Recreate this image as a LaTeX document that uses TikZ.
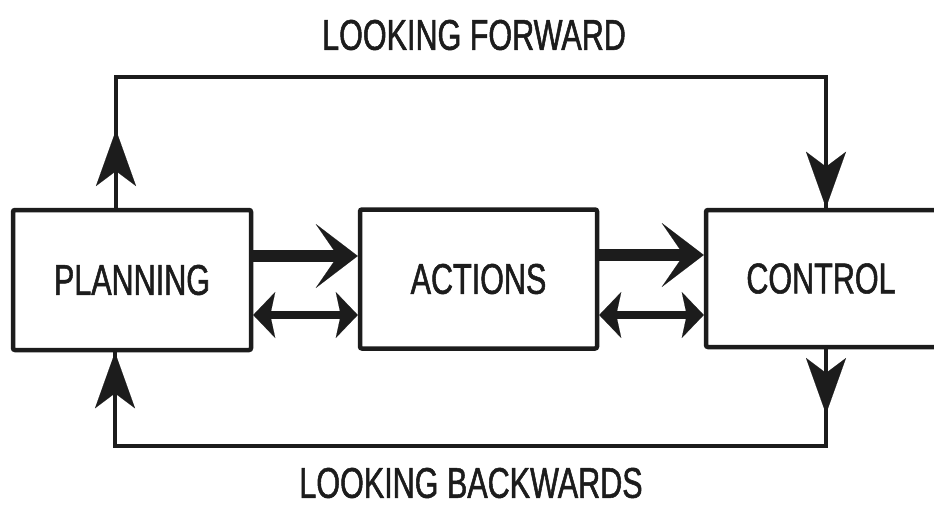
\documentclass[tikz,border=0pt]{standalone}
\usepackage{fontspec}
\newfontfamily\labfont{Liberation Sans}[FakeStretch=0.71,FakeBold=1.2]
\usetikzlibrary{arrows.meta}
\definecolor{ink}{HTML}{1C1C1C}
\tikzset{
  box/.style={draw=ink, line width=4.5pt, rounded corners=2pt, inner sep=0pt, fill=white,
    text=ink, font=\labfont\fontsize{43}{43}\selectfont},
  lbl/.style={inner sep=0pt, text=ink, font=\labfont\fontsize{43}{43}\selectfont},
  fb/.style={draw=ink, line width=3.5pt, line join=miter},
  fbtip/.style={fb, -{Stealth[length=56pt 0, width=40pt 0, inset=15pt 0, line width=0.1pt]}},
  fwd/.style={draw=ink, line width=12pt, -{Stealth[length=42pt 0, width=64pt 0, inset=22pt 0, line width=0.1pt]}},
  both/.style={draw=ink, line width=8pt, {Stealth[length=22pt 0, width=46pt 0, inset=5pt 0, line width=0.1pt]}-{Stealth[length=22pt 0, width=46pt 0, inset=5pt 0, line width=0.1pt]}}
}
\begin{document}
\begin{tikzpicture}[x=1pt,y=-1pt]
\useasboundingbox (0,0) rectangle (934,506);
\clip (0,0) rectangle (934,506);
\fill[white] (0,0) rectangle (934,506);

% boxes
\node[box, minimum width=238pt, minimum height=140pt] (planning) at (132,280) {PLANNING};
\node[box, minimum width=237pt, minimum height=139pt] (actions) at (478.5,279) {ACTIONS};
\node[box, minimum width=234pt, minimum height=137pt] (control) at (823,278.5) {\hspace*{-4pt}CONTROL};

% titles
\node[lbl] (fwdlabel) at (474,35) {LOOKING FORWARD};
\node[lbl] (backlabel) at (471,483) {LOOKING BACKWARDS};

% feedback loop coordinates
\coordinate (tl) at (116,77);
\coordinate (tr) at (826,77);
\coordinate (bl) at (115,446);
\coordinate (br) at (826,446);
\coordinate (tlarrow) at (116,130);
\coordinate (brarrow) at (826,414);

% looking forward loop
\draw[fb] (planning.north -| tl) -- (tl) -- (tr) -- (control.north -| tr);
\draw[fbtip] (planning.north -| tl) -- (tlarrow);
\draw[fbtip] (tr) -- (control.north -| tr);

% looking backwards loop
\draw[fb] (control.south -| br) -- (br) -- (bl) -- (planning.south -| bl);
\draw[fbtip] (bl) -- (planning.south -| bl);
\draw[fbtip] (control.south -| br) -- (brarrow);

% horizontal arrows
\draw[fwd] ([yshift=24pt]planning.east) -- ([yshift=24pt]planning.east -| actions.west);
\draw[both] ([yshift=-35pt]planning.east) -- ([yshift=-35pt]planning.east -| actions.west);
\draw[fwd] ([yshift=24pt]actions.east) -- ([yshift=24pt]actions.east -| control.west);
\draw[both] ([yshift=-36pt]actions.east) -- ([yshift=-36pt]actions.east -| control.west);
\end{tikzpicture}
\end{document}
